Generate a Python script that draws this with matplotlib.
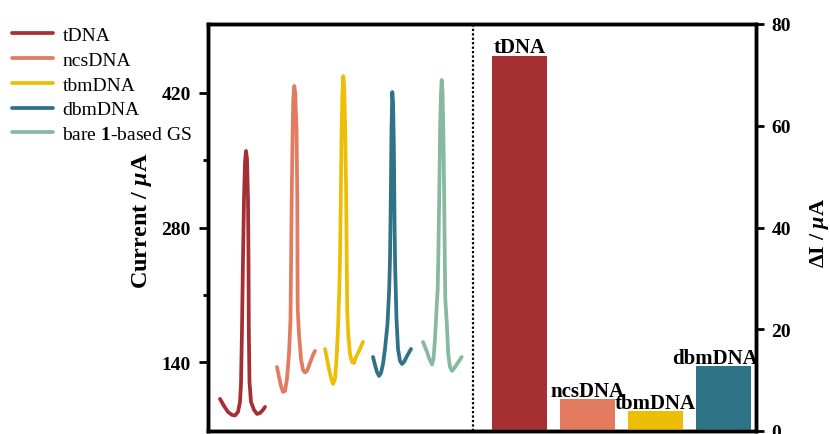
import matplotlib
matplotlib.use("Agg")
import matplotlib.pyplot as plt
from matplotlib.ticker import FixedLocator

plt.rcParams['font.family'] = 'Liberation Serif'
plt.rcParams['mathtext.fontset'] = 'custom'
plt.rcParams['mathtext.rm'] = 'Liberation Serif'
plt.rcParams['mathtext.it'] = 'Liberation Serif:italic'
plt.rcParams['mathtext.bf'] = 'Liberation Serif:bold'
plt.rcParams['mathtext.bfit'] = 'Liberation Serif:italic:bold'

names  = ['tDNA', 'ncsDNA', 'tbmDNA', 'dbmDNA', 'bare $\\mathbf{1}$-based GS']
colors = ['#A62F33', '#E27B5F', '#EEBE06', '#2F7386', '#86B9A0']

## DPV curves, x = potential (arbitrary, offset per sample), y = current (uA)
x_t   = [12, 16, 20, 24, 27, 30, 32, 33, 34, 35, 36, 37, 38, 39, 40, 40.5, 40.8,
         41.5, 43, 46, 49, 52, 55, 57]
i_t   = [101.9, 94.6, 88.4, 85.3, 84.7, 88.4, 98.8, 117.5, 174.6, 247.3, 309.6,
         348.0, 359.5, 351.1, 309.6, 247.3, 174.6, 119.5, 98.8, 90.5, 86.3, 87.3,
         90.5, 93.6]
x_ncs = [69, 71, 73, 75, 77, 79, 81, 82.5, 83, 83.7, 84.5, 85.3, 86.3, 87.3, 88.5,
         89.3, 89.5, 89.7, 91, 93, 95, 97, 99, 102, 105, 107]
i_ncs = [135.1, 124.7, 115.4, 109.2, 110.2, 122.7, 148.6, 185.0, 236.9, 309.6,
         371.9, 413.5, 427.0, 418.7, 382.3, 309.6, 236.9, 195.4, 169.4, 143.4,
         132.0, 129.4, 131.0, 139.3, 147.6, 151.7]
x_tbm = [117, 119, 121, 123, 125, 127, 128.5, 130, 131.3, 132, 132.8, 133.6, 134.4,
         135.3, 136.2, 137.2, 138.2, 138.7, 139.2, 140.2, 142, 144, 146, 148,
         151.5, 155]
i_tbm = [153.8, 143.4, 133.0, 123.7, 117.5, 122.7, 143.4, 174.6, 216.1, 247.3,
         309.6, 382.3, 418.7, 437.3, 425.9, 382.3, 309.6, 247.3, 195.4, 169.4,
         148.6, 140.3, 139.3, 145.5, 152.8, 161.1]
x_dbm = [165, 167, 169, 171, 173, 175, 177, 179.5, 181.2, 182, 182.8, 183.5, 184.3,
         185.1, 185.9, 186.6, 187.2, 188.5, 190, 192, 194, 196, 199, 203]
i_dbm = [145.5, 137.2, 129.9, 125.8, 128.9, 138.2, 153.8, 179.8, 216.1, 247.3,
         309.6, 382.3, 420.7, 408.3, 361.5, 278.4, 236.9, 185.0, 153.8, 141.4,
         138.2, 140.3, 146.5, 153.8]
x_gs  = [215, 217, 219, 221, 224, 225.5, 227, 228.7, 229.7, 230.3, 231.2, 232.1,
         232.9, 233.7, 234.5, 235.3, 236.2, 236.8, 237.3, 238.7, 240.3, 242, 244,
         246.5, 249, 253.7]
i_gs  = [161.1, 155.9, 150.7, 144.5, 137.7, 143.4, 164.2, 198.5, 216.1, 247.3,
         309.6, 382.3, 418.7, 433.2, 421.8, 382.3, 309.6, 247.3, 205.7, 181.9,
         147.6, 135.1, 131.0, 134.1, 138.2, 145.5]

## delta I bars (uA)
bar_names = ['tDNA', 'ncsDNA', 'tbmDNA', 'dbmDNA']
delta_i   = [73.8, 6.3, 3.9, 12.7]

curves = [(x_t, i_t), (x_ncs, i_ncs), (x_tbm, i_tbm), (x_dbm, i_dbm), (x_gs, i_gs)]

fig = plt.figure(figsize=(8.3, 4.35), dpi=100)
ax = fig.add_axes([208/830, 3/435, 548/830, 407/435])

for (xs, ys), c, n in zip(curves, colors, names):
    ax.plot(xs, ys, color=c, lw=2.7, label=n,
            solid_capstyle='round', solid_joinstyle='round')

ax.set_xlim(0, 548)
ax.set_ylim(68.6, 491.4)
ax.axvline(265, color='k', ls=(0, (1, 1)), lw=1.6)
ax.set_xticks([])
ax.set_yticks([140, 280, 420])
ax.yaxis.set_minor_locator(FixedLocator([210, 350]))
ax.tick_params(axis='y', which='major', direction='out', length=6.5, width=2,
               labelsize=14, pad=6)
ax.tick_params(axis='y', which='minor', direction='out', length=3.5, width=2)
for lab in ax.get_yticklabels():
    lab.set_fontweight('bold')
ax.set_ylabel('Current / $\\mathbfit{\\mu}$A', fontsize=17.5, fontweight='bold')
ax.yaxis.set_label_coords(-0.099, 0.52)

ax2 = ax.twinx()
pos = [311.3 + 68 * k for k in range(len(delta_i))]
ax2.bar(pos, delta_i, width=55, color=colors[:4])
ax2.set_ylim(0, 80)
ax2.set_yticks([0, 20, 40, 60, 80])
ax2.tick_params(axis='y', direction='out', length=6, width=2, labelsize=14, pad=5)
for lab in ax2.get_yticklabels():
    lab.set_fontweight('bold')
ax2.set_ylabel('$\\mathbf{\\Delta I}$ / $\\mathbfit{\\mu}$A', fontsize=16,
               fontweight='bold', rotation=90, va='bottom', ha='center')
ax2.yaxis.set_label_coords(1.136, 0.49)

shift = {'dbmDNA': -8}
for p, v, n in zip(pos, delta_i, bar_names):
    ax2.text(p + shift.get(n, 0), v + 0.6, n, ha='center', va='baseline',
             fontsize=15, fontweight='bold')

for a in (ax, ax2):
    for s in a.spines.values():
        s.set_linewidth(2.5)

fig.legend(loc='upper left', bbox_to_anchor=(0.005, 0.955), frameon=False,
           fontsize=14, handlelength=2.1, handletextpad=0.5, labelspacing=0.37,
           borderaxespad=0)

fig.savefig('out.png', dpi=100)
